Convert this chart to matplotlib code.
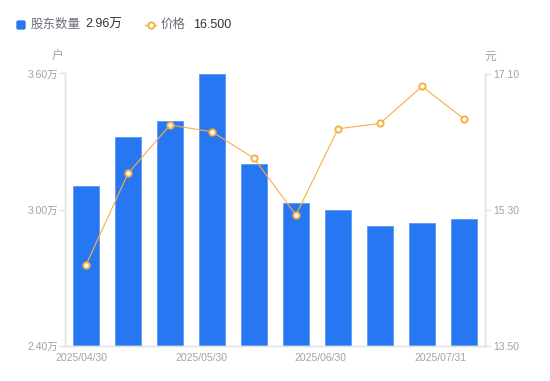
import numpy as np
import matplotlib.pyplot as plt
from matplotlib.patches import FancyBboxPatch
from matplotlib.lines import Line2D

plt.rcParams['font.family'] = ['Liberation Sans', 'Noto Sans CJK SC', 'DejaVu Sans']

### data
dates = ["2025/04/30", "2025/05/15", "2025/05/20", "2025/05/30", "2025/06/10",
         "2025/06/20", "2025/06/30", "2025/07/10", "2025/07/20", "2025/07/31"]
holders = [3.105, 3.32, 3.39, 3.597, 3.20, 3.03, 3.00, 2.93, 2.94, 2.96]   # 万户
price = [14.57, 15.78, 16.42, 16.33, 15.98, 15.23, 16.37, 16.44, 16.93, 16.50]
tick_labels = ["2025/04/30", "2025/05/30", "2025/06/30", "2025/07/31"]
left_ticks = [2.40, 3.00, 3.60]
right_ticks = [13.50, 15.30, 17.10]

bar_color = "#2877F2"
line_color = "#F7B03E"
axis_color = "#E3E4E8"
label_color = "#A0A2AE"

fig = plt.figure(figsize=(5.5, 3.81), dpi=100)
ax = fig.add_axes([65/550, 35/381, 420/550, 272.5/381])
ax2 = ax.twinx()

x = np.arange(len(dates))
ax.bar(x, holders, width=0.6, color=bar_color, edgecolor="#5C98F5", linewidth=0.6, zorder=2)
ax2.plot(x, price, color=line_color, linewidth=0.8, marker="o", markersize=4.5,
         markerfacecolor="white", markeredgecolor=line_color, markeredgewidth=1.4, zorder=3)

ax.set_xlim(-0.5, 9.5)
ax.set_ylim(2.40, 3.60)
ax2.set_ylim(13.50, 17.10)

ax.set_yticks(left_ticks)
ax.set_yticklabels([f"{v:.2f}万" for v in left_ticks])
ax2.set_yticks(right_ticks)
ax2.set_yticklabels([f"{v:.2f}" for v in right_ticks])

# x labels spread evenly across the axis like the original
ax.set_xticks(np.linspace(-0.1, 8.43, len(tick_labels)))
ax.set_xticklabels(tick_labels)
ax.tick_params(axis="x", length=0, pad=5, labelsize=7.5, labelcolor=label_color)

for a in (ax, ax2):
    for s in a.spines.values():
        s.set_color(axis_color)
        s.set_linewidth(1)
    a.spines["top"].set_visible(False)
ax.tick_params(axis="y", length=4, width=1, color=axis_color, pad=1, labelsize=7.5, labelcolor=label_color)
ax2.tick_params(axis="y", length=4, width=1, color=axis_color, pad=2, labelsize=7.5, labelcolor=label_color)

# unit labels
fig.text(58/550, 1 - 57/381, "户", fontsize=8.5, color=label_color, ha="center", va="center")
fig.text(490/550, 1 - 57/381, "元", fontsize=8.5, color=label_color, ha="center", va="center")

# legend
ly = 1 - 25/381
fig.patches.append(FancyBboxPatch((17/550, 1 - 29/381), 8/550, 8/381,
                                  boxstyle="round,pad=0,rounding_size=0.003",
                                  transform=fig.transFigure, color=bar_color))
fig.text(31/550, ly, "股东数量", fontsize=9, color="#6B6D78", va="center")
fig.text(85/550, ly, f"{holders[-1]:.2f}万", fontsize=9, color="#333333", va="center")
fig.lines.append(Line2D([145/550, 156/550], [ly, ly], transform=fig.transFigure,
                        color=line_color, linewidth=1))
fig.lines.append(Line2D([150.5/550], [ly], transform=fig.transFigure, marker="o",
                        markersize=4.5, markerfacecolor="white", markeredgecolor=line_color,
                        markeredgewidth=1.4, linestyle="none"))
fig.text(161/550, ly, "价格", fontsize=9, color="#6B6D78", va="center")
fig.text(193/550, ly, f"{price[-1]:.3f}", fontsize=9, color="#333333", va="center")

fig.savefig("out.png", dpi=100)
